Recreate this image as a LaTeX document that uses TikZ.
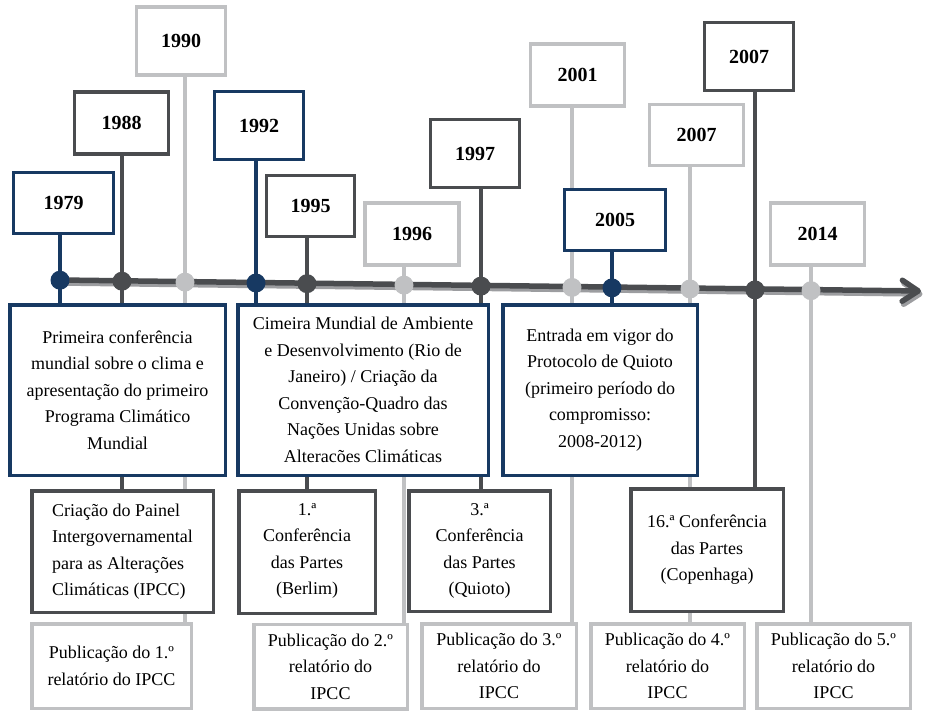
\documentclass[tikz,border=0pt]{standalone}
\usepackage{fontspec}
\setmainfont{Liberation Serif}
\usetikzlibrary{arrows.meta,backgrounds,calc}
\definecolor{tlblue}{HTML}{173962}
\definecolor{tldark}{HTML}{4A4C4F}
\definecolor{tllight}{HTML}{C0C1C3}
\definecolor{tlshadow}{HTML}{9C9DA0}

\begin{document}
\begin{tikzpicture}
		[x=1pt,y=-1pt,line cap=round,
		%Styles
		year box/.style={draw=#1,line width=3.5pt,fill=white,minimum width=94pt,minimum height=62pt,
			inner sep=0pt,font=\fontsize{20}{24}\selectfont\bfseries},
		narrow/.style={minimum width=89pt,minimum height=68pt},
		event box/.style={draw=#1,line width=3.5pt,fill=white,align=center,inner sep=0pt,
			font=\fontsize{18}{26.5}\selectfont},
		dot/.style={circle,fill=#1,inner sep=0pt,minimum size=19pt},
		stem/.style={draw=#1,line width=3.5pt,line cap=butt},
		axis line/.style={line width=5.5pt,-{Straight Barb[length=16pt,width=21pt,round]}}
		]
		\useasboundingbox (0,0) rectangle (927,712);
		
		%Axis ends
		\coordinate (axL) at (60,280);
		\coordinate (axR) at (921,291);
		
		%Years
		\node[year box=tlblue,minimum width=100pt,minimum height=61pt] (yr1979) at (63.5,203) {1979};
		\node[year box=tldark] (yr1988) at (121.5,123) {1988};
		\node[year box=tllight,narrow] (yr1990) at (181,41) {1990};
		\node[year box=tlblue,narrow] (yr1992) at (259,125.5) {1992};
		\node[year box=tldark,minimum width=88pt,minimum height=61pt] (yr1995) at (310.5,206) {1995};
		\node[year box=tllight] (yr1996) at (412,234) {1996};
		\node[year box=tldark,narrow] (yr1997) at (475,153.5) {1997};
		\node[year box=tllight] (yr2001) at (577.5,75) {2001};
		\node[year box=tlblue,minimum width=101pt,minimum height=61pt] (yr2005) at (615,220) {2005};
		\node[year box=tllight,minimum height=61pt] (yr2007a) at (696.5,135) {2007};
		\node[year box=tldark,narrow] (yr2007b) at (749,56.5) {2007};
		\node[year box=tllight] (yr2014) at (817.5,234) {2014};
		
		%Dots on the axis
		\node[dot=tlblue] (pt1979) at (60,280.2) {};
		\node[dot=tldark] (pt1988) at (122,281.2) {};
		\node[dot=tllight] (pt1990) at (185,282.1) {};
		\node[dot=tlblue] (pt1992) at (256,283) {};
		\node[dot=tldark] (pt1995) at (307,283.7) {};
		\node[dot=tllight] (pt1996) at (404,285.1) {};
		\node[dot=tldark] (pt1997) at (481,286.1) {};
		\node[dot=tllight] (pt2001) at (572,287.4) {};
		\node[dot=tlblue] (pt2005) at (612,287.9) {};
		\node[dot=tllight] (pt2007a) at (690,289) {};
		\node[dot=tldark] (pt2007b) at (755,289.9) {};
		\node[dot=tllight] (pt2014) at (811,290.7) {};
		
		%Events
		\node[event box=tlblue,minimum width=215.5pt,minimum height=170.5pt] (ev1979) at (117.5,390)
			{Primeira conferência\\mundial sobre o clima e\\apresentação do primeiro\\Programa Climático\\Mundial};
		\node[event box=tlblue,minimum width=250.5pt,minimum height=170.5pt] (ev1992) at (363,390)
			{Cimeira Mundial de Ambiente\\e Desenvolvimento (Rio de\\Janeiro) / Criação da\\Convenção-Quadro das\\Nações Unidas sobre\\Alteracões Climáticas};
		\node[event box=tlblue,minimum width=194.5pt,minimum height=170.5pt] (ev2005) at (600,390)
			{Entrada em vigor do\\Protocolo de Quioto\\(primeiro período do\\compromisso:\\2008-2012)};
		
		\node[event box=tldark,align=left,minimum width=181.5pt,minimum height=121.5pt,text depth=4pt] (ev1988) at (122.5,551.5)
			{Criação do Painel\\Intergovernamental\\para as Alterações\\Climáticas (IPCC)};
		\node[event box=tldark,minimum width=136.5pt,minimum height=122.5pt,text depth=6pt] (ev1995) at (307,552)
			{1.ª\\Conferência\\das Partes\\(Berlim)};
		\node[event box=tldark,minimum width=141.5pt,minimum height=120.5pt] (ev1997) at (479.5,551)
			{3.ª\\Conferência\\das Partes\\(Quioto)};
		\node[event box=tldark,minimum width=152.5pt,minimum height=122.5pt] (ev2007b) at (707,550)
			{16.ª Conferência\\das Partes\\(Copenhaga)};
		
		\node[event box=tllight,minimum width=159.5pt,minimum height=84.5pt] (ev1990) at (111.5,666)
			{Publicação do 1.º\\relatório do IPCC};
		\node[event box=tllight,minimum width=153.5pt,minimum height=84.5pt] (ev1996) at (330.5,666.5)
			{Publicação do 2.º\\relatório do\\IPCC};
		\node[event box=tllight,minimum width=154.5pt,minimum height=84.5pt] (ev2001) at (499,666)
			{Publicação do 3.º\\relatório do\\IPCC};
		\node[event box=tllight,minimum width=153.5pt,minimum height=84.5pt] (ev2007a) at (667.5,666)
			{Publicação do 4.º\\relatório do\\IPCC};
		\node[event box=tllight,minimum width=153.5pt,minimum height=84.5pt] (ev2014) at (833.5,666)
			{Publicação do 5.º\\relatório do\\IPCC};
		
		%Stems and axis behind the boxes
		\begin{scope}[on background layer]
			\foreach \yr/\col in {1979/tlblue,1988/tldark,1990/tllight,1992/tlblue,1995/tldark,1996/tllight,
				1997/tldark,2001/tllight,2005/tlblue,2007a/tllight,2007b/tldark,2014/tllight}
				\draw[stem=\col] (pt\yr |- yr\yr.south) -- (pt\yr |- ev\yr.north);
			\draw[axis line,draw=tlshadow] ($(axL)+(1.5,3)$) -- ($(axR)+(1.5,3)$);
			\draw[axis line,draw=tldark] (axL) -- (axR);
		\end{scope}
	\end{tikzpicture}
\end{document}
